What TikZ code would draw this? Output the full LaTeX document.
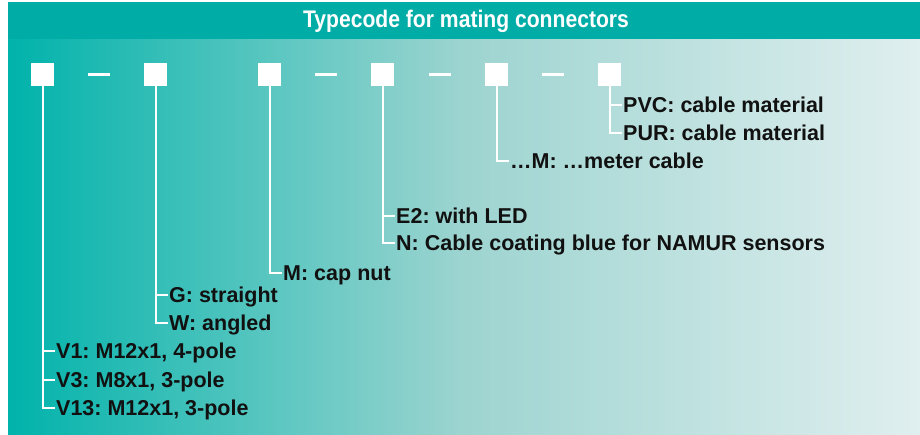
\documentclass[tikz,border=0pt]{standalone}
\usepackage{fontspec}
\setmainfont{Liberation Sans}
\usepackage{tikz}
\usetikzlibrary{positioning, calc}
\usepackage{xcolor}
\definecolor{headTeal}{HTML}{00ADA6}
\definecolor{bgLeft}{HTML}{00B3AB}
\definecolor{bgMid}{HTML}{9DD4D0}
\definecolor{bgRight}{HTML}{E0EFEF}
\definecolor{inkDark}{HTML}{111111}
\frenchspacing

\begin{document}
\begin{tikzpicture}[
  x=1pt, y=-1pt,
  slot/.style={rectangle, fill=white, draw=none, minimum size=23pt, inner sep=0pt},
  dashbar/.style={rectangle, fill=white, draw=none, minimum width=22pt,
                  minimum height=2.2pt, inner sep=0pt},
  lbl/.style={anchor=west, inner xsep=1.5pt, inner ysep=0pt,
              text height=15.4pt, text depth=0pt, text=inkDark,
              font=\bfseries\fontsize{21.5}{24}\selectfont},
  lead/.style={draw=white, line width=2pt},
]
\useasboundingbox (0,0) rectangle (920,434);

% ── Backdrop and title band ────────────────────────────────────────
\fill[left color=bgLeft, right color=bgRight, middle color=bgMid]
  (8,2) rectangle (920,434);
\fill[headTeal] (8,2) rectangle (920,39);
\node[text=white, font=\bfseries\fontsize{24}{26}\selectfont, xscale=0.88]
  (title) at (466,21) {Typecode for mating connectors};

% ── Grid coordinates ───────────────────────────────────────────────
\def\colA{42.5}     % slot 1 x
\def\colB{155.5}    % slot 2 x
\def\colC{269.5}    % slot 3 x
\def\colD{382.5}    % slot 4 x
\def\colE{496.5}    % slot 5 x
\def\colF{609.5}    % slot 6 x
\def\rowS{74.5}     % slot row y
\def\gap{12}        % tick length before a label

% ── Slots and separators ───────────────────────────────────────────
\node[slot] (sqA) at (\colA,\rowS) {};
\node[slot] (sqB) at (\colB,\rowS) {};
\node[slot] (sqC) at (\colC,\rowS) {};
\node[slot] (sqD) at (\colD,\rowS) {};
\node[slot] (sqE) at (\colE,\rowS) {};
\node[slot] (sqF) at (\colF,\rowS) {};

\node[dashbar] (dAB) at ($(sqA)!0.5!(sqB)$) {};
\node[dashbar] (dCD) at ($(sqC)!0.5!(sqD)$) {};
\node[dashbar] (dDE) at ($(sqD)!0.5!(sqE)$) {};
\node[dashbar] (dEF) at ($(sqE)!0.5!(sqF)$) {};

% ── Labels ─────────────────────────────────────────────────────────
\node[lbl] (pvc)  at (\colF+\gap,105) {PVC: cable material};
\node[lbl] (pur)  at (\colF+\gap,133) {PUR: cable material};
\node[lbl] (mtr)  at (\colE+\gap,161) {\dots M: \dots meter cable};
\node[lbl] (led)  at (\colD+\gap,216) {E2: with LED};
\node[lbl] (namr) at (\colD+\gap,243) {N: Cable coating blue for NAMUR sensors};
\node[lbl] (nut)  at (\colC+\gap,273) {M: cap nut};
\node[lbl] (strg) at (\colB+\gap,295) {G: straight};
\node[lbl] (angl) at (\colB+\gap,323) {W: angled};
\node[lbl] (vone) at (\colA+\gap,351) {V1: M12x1, 4-pole};
\node[lbl] (vthr) at (\colA+\gap,380) {V3: M8x1, 3-pole};
\node[lbl] (vtrt) at (\colA+\gap,408) {V13: M12x1, 3-pole};

% ── Leads (down from each slot, then right into its labels) ────────
\draw[lead] (sqA.south) |- (vone.west);
\draw[lead] (sqA.south) |- (vthr.west);
\draw[lead] (sqA.south) |- (vtrt.west);
\draw[lead] (sqB.south) |- (strg.west);
\draw[lead] (sqB.south) |- (angl.west);
\draw[lead] (sqC.south) |- (nut.west);
\draw[lead] (sqD.south) |- (led.west);
\draw[lead] (sqD.south) |- (namr.west);
\draw[lead] (sqE.south) |- (mtr.west);
\draw[lead] (sqF.south) |- (pvc.west);
\draw[lead] (sqF.south) |- (pur.west);

\end{tikzpicture}
\end{document}
